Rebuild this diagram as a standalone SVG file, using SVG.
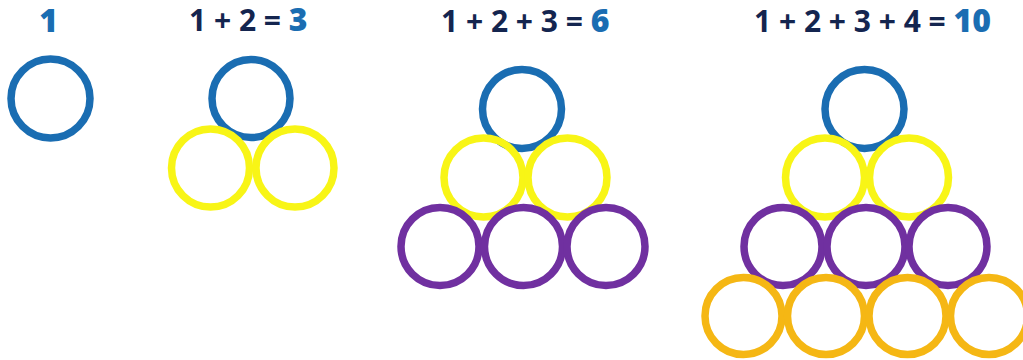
<svg xmlns="http://www.w3.org/2000/svg" width="1023" height="360" viewBox="0 0 1023 360">
<style>
.c{fill:none;stroke-width:7.5}
.b{stroke:#1a6db2}
.y{stroke:#f8f516}
.p{stroke:#7030a0}
.o{stroke:#f5b714}
.eq{font-family:"Open Sans","Liberation Sans",sans-serif;font-weight:700;font-size:30px;fill:#14254f}
.ans{font-family:"Open Sans","Liberation Sans",sans-serif;font-weight:800;font-size:32px;fill:#1a6db2}
</style>
<rect width="1023" height="360" fill="#ffffff"/>
<g id="one">
<text class="ans" x="48.5" y="32" font-size="33" text-anchor="middle">1</text>
<circle class="c b" cx="50.5" cy="98.5" r="39.5"/>
</g>
<g id="three">
<text class="eq" x="189" y="31">1 + 2 = <tspan class="ans">3</tspan></text>
<circle class="c b" cx="251" cy="98.5" r="39"/>
<circle class="c y" cx="210.5" cy="168" r="39"/>
<circle class="c y" cx="295" cy="168" r="39"/>
</g>
<g id="six">
<text class="eq" x="441" y="32">1 + 2 + 3 = <tspan class="ans">6</tspan></text>
<circle class="c b" cx="522" cy="109" r="39.5"/>
<circle class="c y" cx="483.5" cy="177.5" r="39.5"/>
<circle class="c y" cx="567.5" cy="177.5" r="39.5"/>
<circle class="c p" cx="440" cy="246.5" r="39"/>
<circle class="c p" cx="523.5" cy="246.5" r="39"/>
<circle class="c p" cx="606" cy="246.5" r="39"/>
</g>
<g id="ten">
<text class="eq" x="754" y="32">1 + 2 + 3 + 4 = <tspan class="ans">10</tspan></text>
<circle class="c b" cx="864.5" cy="109" r="39.5"/>
<circle class="c y" cx="825" cy="177.5" r="39.5"/>
<circle class="c y" cx="909" cy="177.5" r="39.5"/>
<circle class="c p" cx="783" cy="246.5" r="39"/>
<circle class="c p" cx="866" cy="246.5" r="39"/>
<circle class="c p" cx="948" cy="246.5" r="39"/>
<circle class="c o" cx="743.5" cy="316" r="38.5"/>
<circle class="c o" cx="826" cy="316" r="38.5"/>
<circle class="c o" cx="907.5" cy="316" r="38.5"/>
<circle class="c o" cx="989" cy="316" r="38.5"/>
</g>
</svg>
